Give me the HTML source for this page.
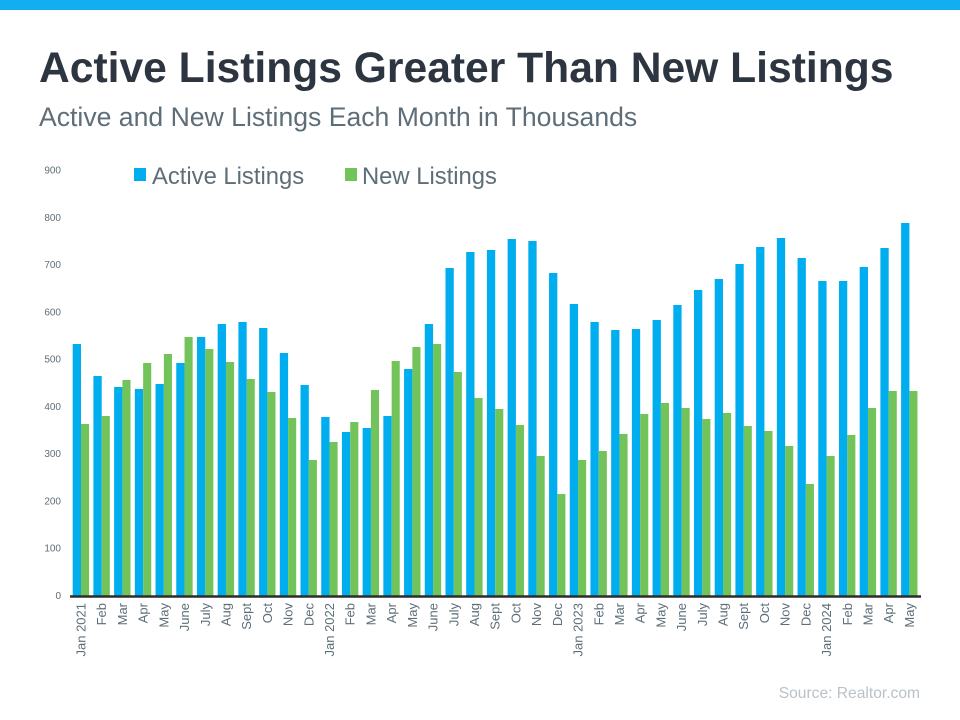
<!DOCTYPE html>
<html><head><meta charset="utf-8"><style>
html,body{margin:0;padding:0;background:#fff;width:960px;height:720px;overflow:hidden}
svg{display:block;font-family:"Liberation Sans",Arial,sans-serif}
</style></head><body>
<svg id="s" width="960" height="720" viewBox="0 0 960 720">
<rect x="0" y="0" width="960" height="10" fill="#13aef0"/>
<text x="39" y="82" font-size="42.6" font-weight="bold" fill="#2d3640">Active Listings Greater Than New Listings</text>
<text x="39" y="126" font-size="26.6" fill="#5e6e78">Active and New Listings Each Month in Thousands</text>
<rect x="134" y="168" width="12" height="13" fill="#00aeef"/>
<text x="152" y="184" font-size="23.8" fill="#5e6e78">Active Listings</text>
<rect x="345" y="168" width="12" height="13" fill="#72c35a"/>
<text x="362" y="184" font-size="23.8" fill="#5e6e78">New Listings</text>
<text x="920" y="698" font-size="15.6" fill="#b8c2c8" text-anchor="end">Source: Realtor.com</text>
<g id="g"></g>
<line x1="70" y1="596.5" x2="921" y2="596.5" stroke="#2d2d2d" stroke-width="2.5"/>
</svg>
<script>
var A=[344,376,387,389,384,363,337,324,322,328,353,385,417,432,428,416,369,324,268,252,250,239,241,273,304,322,330,329,320,305,290,279,264,247,238,258,281,281,267,248,223];
var N=[424,416,380,363,354,337,349,362,379,392,418,460,442,422,390,361,347,344,372,398,409,425,456,494,460,451,434,414,403,408,419,413,426,431,446,484,456,435,408,391,391];
var L=["Jan 2021","Feb","Mar","Apr","May","June","July","Aug","Sept","Oct","Nov","Dec","Jan 2022","Feb","Mar","Apr","May","June","July","Aug","Sept","Oct","Nov","Dec","Jan 2023","Feb","Mar","Apr","May","June","July","Aug","Sept","Oct","Nov","Dec","Jan 2024","Feb","Mar","Apr","May"];
var h="",z=595.5,p=20.71;
for(var i=0;i<41;i++){var x=72.7+p*i;
h+='<rect x="'+x+'" y="'+A[i]+'" width="8.3" height="'+(z-A[i])+'" fill="#00aeef"/>';
h+='<rect x="'+(x+8.3)+'" y="'+N[i]+'" width="8.1" height="'+(z-N[i])+'" fill="#72c35a"/>';
var cx=x+8.3+4.5;
h+='<text transform="translate('+cx+',603) rotate(-90)" text-anchor="end" font-size="13" fill="#5e6e78">'+L[i]+'</text>';}
for(var k=0;k<=9;k++){var y=z-k*100*0.4728+3.5;h+='<text x="61" y="'+y+'" font-size="10" fill="#5e6e78" text-anchor="end">'+(k*100)+'</text>';}
document.getElementById("g").innerHTML=h;
</script>
</body></html>
